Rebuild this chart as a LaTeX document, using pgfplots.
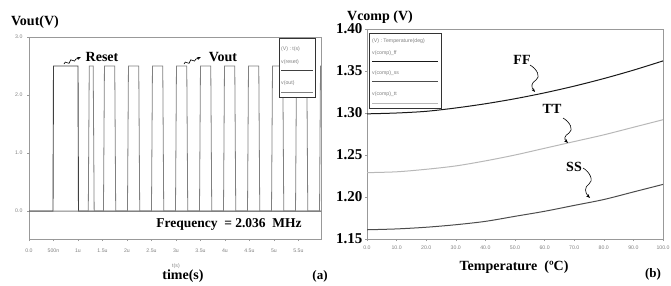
\documentclass[border=0pt]{standalone}
\usepackage{pgfplots}
\pgfplotsset{compat=1.18}
\usepackage{fontspec}
\setmainfont{Liberation Serif}
\newfontfamily\tickfont{Liberation Sans}
\usetikzlibrary{decorations.pathmorphing,arrows.meta}
\definecolor{frame}{gray}{0.6}
\definecolor{resetc}{gray}{0.25}
\definecolor{voutc}{gray}{0.5}
\definecolor{ffc}{gray}{0.1}
\definecolor{ssc}{gray}{0.3}
\definecolor{ttc}{gray}{0.72}
\newcommand{\tinyf}{\tickfont\fontsize{5.2}{6}\selectfont}
\begin{document}
\begin{tikzpicture}[x=1pt,y=1pt]
\path[use as bounding box] (0,0) rectangle (671,285);
% ---------------- left panel ----------------
\begin{axis}[at={(29pt,46pt)}, anchor=south west, scale only axis,
  width=292pt, height=202pt,
  xmin=0, xmax=5.96, ymin=-0.48, ymax=3.0,
  axis line style={frame, line width=0.9pt},
  tick style={frame, line width=0.4pt}, major tick length=2pt, tick align=outside,
  xtick pos=bottom, ytick pos=left,
  xtick={0,0.5,1,1.5,2,2.5,3,3.5,4,4.5,5,5.5},
  xticklabels={0.0,500n,1u,1.5u,2u,2.5u,3u,3.5u,4u,4.5u,5u,5.5u},
  ytick={0,1,2,3}, yticklabels={0.0,1.0,2.0,3.0},
  /pgf/number format/assume math mode=true,
  ticklabel style={font=\tinyf, text=gray},
  xticklabel style={yshift=-4pt},
  yticklabel style={xshift=-1pt},
]
\addplot[resetc, line width=0.9pt] coordinates {(0,0)(0.49,0)(0.50,2.5)(1.0,2.5)(1.01,0)(5.96,0)};
\addplot[voutc, line width=0.8pt] coordinates {
(0,0)(1.21,0)(1.23,2.5)(1.31,2.5)(1.33,0)
(1.52,0)(1.54,2.5)(1.75,2.5)(1.77,0)
(2.01,0)(2.03,2.5)(2.24,2.5)(2.26,0)
(2.50,0)(2.52,2.5)(2.73,2.5)(2.75,0)
(2.99,0)(3.01,2.5)(3.22,2.5)(3.24,0)
(3.48,0)(3.50,2.5)(3.71,2.5)(3.73,0)
(3.97,0)(3.99,2.5)(4.20,2.5)(4.22,0)
(4.46,0)(4.48,2.5)(4.69,2.5)(4.71,0)
(4.95,0)(4.97,2.5)(5.18,2.5)(5.20,0)
(5.44,0)(5.46,2.5)(5.67,2.5)(5.69,0)
(5.93,0)(5.95,2.5)(5.96,2.5)};
\end{axis}
% left legend
\draw[fill=white, draw=black!80, line width=0.8pt] (279,188) rectangle (315,247);
\node[anchor=west, font=\tinyf, text=gray, inner sep=0] at (281,236) {(V) : t(s)};
\node[anchor=west, font=\tinyf, text=gray, inner sep=0] at (281,223) {v(reset)};
\draw[resetc, line width=0.8pt] (281,215) -- (313,215);
\node[anchor=west, font=\tinyf, text=gray, inner sep=0] at (281,202) {v(out)};
\draw[voutc, line width=0.8pt] (281,193) -- (313,193);
% left texts
\node[font=\bfseries\fontsize{14}{16}\selectfont] at (35,263) {Vout(V)};
\node[font=\bfseries\fontsize{14}{16}\selectfont] at (102,228) {Reset};
\node[font=\bfseries\fontsize{14}{16}\selectfont] at (223,228) {Vout};
\draw[-{Stealth[length=4pt,width=3pt]}, line width=0.6pt, decorate,
  decoration={snake, amplitude=1.3pt, segment length=6pt, post length=3pt}] (64,221) -- (81,228);
\draw[-{Stealth[length=4pt,width=3pt]}, line width=0.6pt, decorate,
  decoration={snake, amplitude=1.3pt, segment length=6pt, post length=3pt}] (184,221) -- (201,228);
\node[font=\bfseries\fontsize{13.5}{15}\selectfont] at (229,61) {Frequency \ = 2.036 \ MHz};
\node[font=\bfseries\fontsize{14}{16}\selectfont] at (183,9) {time(s)};
\node[font=\tinyf, text=gray] at (176,19) {t(s)};
\node[font=\bfseries\fontsize{13}{15}\selectfont] at (320,9) {(a)};
% ---------------- right panel ----------------
\begin{axis}[at={(367pt,46pt)}, anchor=south west, scale only axis,
  width=296pt, height=210pt,
  xmin=0, xmax=100, ymin=1.15, ymax=1.40,
  axis line style={frame, line width=0.9pt},
  tick style={frame, line width=0.4pt}, major tick length=2pt, tick align=outside,
  xtick pos=bottom, ytick pos=left,
  xtick={0,10,...,100},
  xticklabels={0.0,10.0,20.0,30.0,40.0,50.0,60.0,70.0,80.0,90.0,100.0},
  ytick={1.15,1.20,1.25,1.30,1.35,1.40},
  yticklabels={1.15,1.20,1.25,1.30,1.35,1.40},
  /pgf/number format/assume math mode=true,
  xticklabel style={font=\tinyf, text=gray, yshift=-1pt},
  yticklabel style={font=\bfseries\fontsize{15}{16}\selectfont, xshift=1pt},
]
\addplot[ffc, line width=1pt, smooth] coordinates {(0,1.299)(10,1.300)(20,1.302)(30,1.306)(40,1.311)(50,1.317)(60,1.324)(70,1.332)(80,1.341)(90,1.351)(100,1.362)};
\addplot[ssc, line width=1pt, smooth] coordinates {(0,1.161)(10,1.162)(20,1.164)(30,1.167)(40,1.171)(50,1.177)(60,1.183)(70,1.190)(80,1.197)(90,1.206)(100,1.215)};
\addplot[ttc, line width=1pt, smooth] coordinates {(0,1.229)(10,1.230)(20,1.233)(30,1.237)(40,1.243)(50,1.250)(60,1.258)(70,1.266)(80,1.274)(90,1.283)(100,1.292)};
\end{axis}
% right legend
\draw[fill=white, draw=black!80, line width=1pt] (369,177) rectangle (441,252);
\node[anchor=west, font=\tinyf, text=gray, inner sep=0] at (372,244) {(V) : Temperature(deg)};
\node[anchor=west, font=\tinyf, text=gray, inner sep=0] at (372,232) {v(comp)\_ff};
\draw[ffc, line width=0.9pt] (372,224) -- (438,224);
\node[anchor=west, font=\tinyf, text=gray, inner sep=0] at (372,212) {v(comp)\_ss};
\draw[ssc, line width=0.9pt] (372,204) -- (438,204);
\node[anchor=west, font=\tinyf, text=gray, inner sep=0] at (372,191) {v(comp)\_tt};
\draw[ttc, line width=0.9pt] (372,182) -- (438,182);
% right texts
\node[font=\bfseries\fontsize{14}{16}\selectfont] at (380,268) {Vcomp (V)};
\node[font=\bfseries\fontsize{14}{16}\selectfont] at (522,225) {FF};
\node[font=\bfseries\fontsize{14}{16}\selectfont] at (552,176) {TT};
\node[font=\bfseries\fontsize{14}{16}\selectfont] at (574,118) {SS};
\draw[-{Stealth[length=4pt,width=3pt]}, line width=0.6pt]
  (530,220) .. controls (537,216) and (541,208) .. (536,205) .. controls (531,202) and (531,198) .. (535,193);
\draw[-{Stealth[length=4pt,width=3pt]}, line width=0.6pt]
  (563,167) .. controls (570,163) and (574,155) .. (569,152) .. controls (564,149) and (564,146) .. (568,142);
\draw[-{Stealth[length=4pt,width=3pt]}, line width=0.6pt]
  (583,117) .. controls (590,113) and (594,104) .. (589,101) .. controls (584,98) and (585,92) .. (590,87);
\node[font=\bfseries\fontsize{14}{16}\selectfont] at (514,18) {Temperature \ (ºC)};
\node[font=\bfseries\fontsize{13}{15}\selectfont] at (653,11) {(b)};
\end{tikzpicture}
\end{document}
